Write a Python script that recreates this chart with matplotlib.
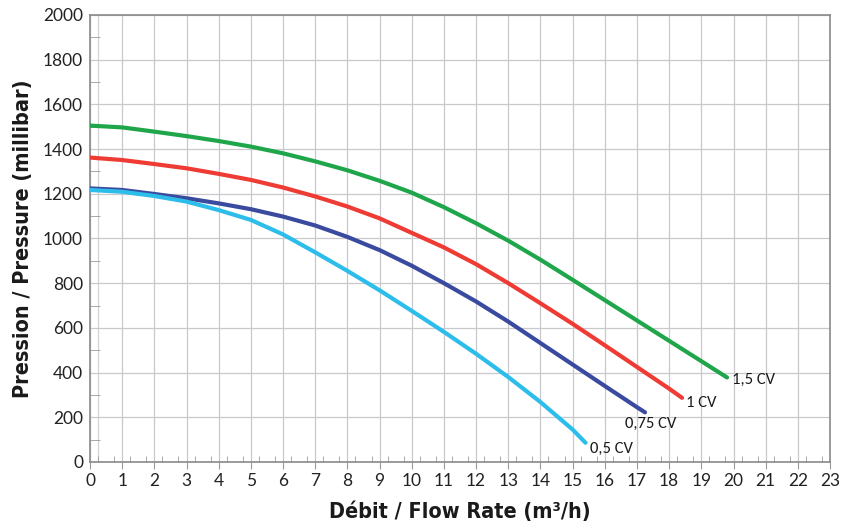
import numpy as np
import matplotlib
matplotlib.use('Agg')
import matplotlib.pyplot as plt
from matplotlib.ticker import MultipleLocator

# ---------- pump curves ----------
x_15 = [0, 1, 2, 3, 4, 5, 6, 7, 8, 9, 10, 11, 12, 13, 14, 15, 16, 17, 18, 19, 19.8]
y_15 = [1505, 1497, 1478, 1458, 1436, 1411, 1381, 1345, 1305, 1258, 1205, 1140,
        1068, 990, 905, 815, 724, 633, 542, 451, 378]

x_1 = [0, 1, 2, 3, 4, 5, 6, 7, 8, 9, 10, 11, 12, 13, 14, 15, 16, 17, 18, 18.4]
y_1 = [1362, 1351, 1333, 1314, 1289, 1262, 1228, 1188, 1143, 1090, 1025, 960,
       885, 800, 710, 618, 522, 425, 328, 287]

x_075 = [0, 1, 2, 3, 4, 5, 6, 7, 8, 9, 10, 11, 12, 13, 14, 15, 16, 17, 17.25]
y_075 = [1224, 1217, 1199, 1180, 1157, 1131, 1098, 1058, 1007, 948, 878, 800,
         718, 628, 532, 436, 340, 245, 222]

x_05 = [0, 1, 2, 3, 4, 5, 6, 7, 8, 9, 10, 11, 12, 13, 14, 15, 15.4]
y_05 = [1217, 1209, 1190, 1165, 1127, 1083, 1018, 938, 855, 768, 676, 582,
        484, 380, 268, 145, 86]

labels = ['1,5 CV', '1 CV', '0,75 CV', '0,5 CV']
colors = ['#1fa64b', '#ee3b34', '#3a4b9f', '#2dbdea']
# label offsets in points from the curve end
offsets = [(3.6, -1.4), (3, -3.6), (-14.4, -8.6), (3, -4.3)]

xticks = np.arange(0, 24, 1)
yticks = np.arange(0, 2001, 200)

plt.rcParams['font.family'] = ['Lato', 'DejaVu Sans']

fig = plt.figure(figsize=(8.5, 5.31), dpi=100)
ax = fig.add_axes([0.1059, 0.13, 0.8706, 0.8418])

series = [(x_15, y_15), (x_1, y_1), (x_075, y_075), (x_05, y_05)]
for (xs, ys), lab, c, off in zip(series, labels, colors, offsets):
    ax.plot(xs, ys, color=c, lw=3.0, solid_capstyle='round', solid_joinstyle='round', zorder=3)
    ax.annotate(lab, (xs[-1], ys[-1]), xytext=off, textcoords='offset points',
                ha='left', va='center', fontsize=12,
                family=['Carlito', 'Open Sans', 'DejaVu Sans'], color='#1a1a1a')

ax.set_xlim(0, 23)
ax.set_ylim(0, 2000)
ax.set_xticks(xticks)
ax.set_yticks(yticks)
ax.xaxis.set_minor_locator(MultipleLocator(0.5, offset=0.25))
ax.yaxis.set_minor_locator(MultipleLocator(200, offset=100))

ax.grid(True, which='major', color='#c9c9cd', lw=0.9, zorder=0)
ax.axvline(0.25, color='#d4d4d8', lw=0.9, zorder=0)

ax.tick_params(axis='x', which='major', direction='out', length=5, color='#9a9a9a',
               labelsize=12.5, labelcolor='#222222', pad=3)
ax.tick_params(axis='x', which='minor', direction='in', length=4, color='#9a9a9a')
ax.tick_params(axis='y', which='major', length=0, labelsize=12.5, labelcolor='#222222', pad=5)
ax.tick_params(axis='y', which='minor', direction='in', length=7, color='#9a9a9a')

for s in ax.spines.values():
    s.set_color('#8a8a8a')
    s.set_linewidth(1.2)

label_font = dict(family=['DejaVu Sans'], stretch='condensed', weight='bold',
                  fontsize=15.5, color='#1a1a1a')
ax.set_xlabel('Débit / Flow Rate (m³/h)', labelpad=9, **label_font)
ax.set_ylabel('Pression / Pressure (millibar)', labelpad=7, **label_font)

fig.savefig('out.png', dpi=100)
